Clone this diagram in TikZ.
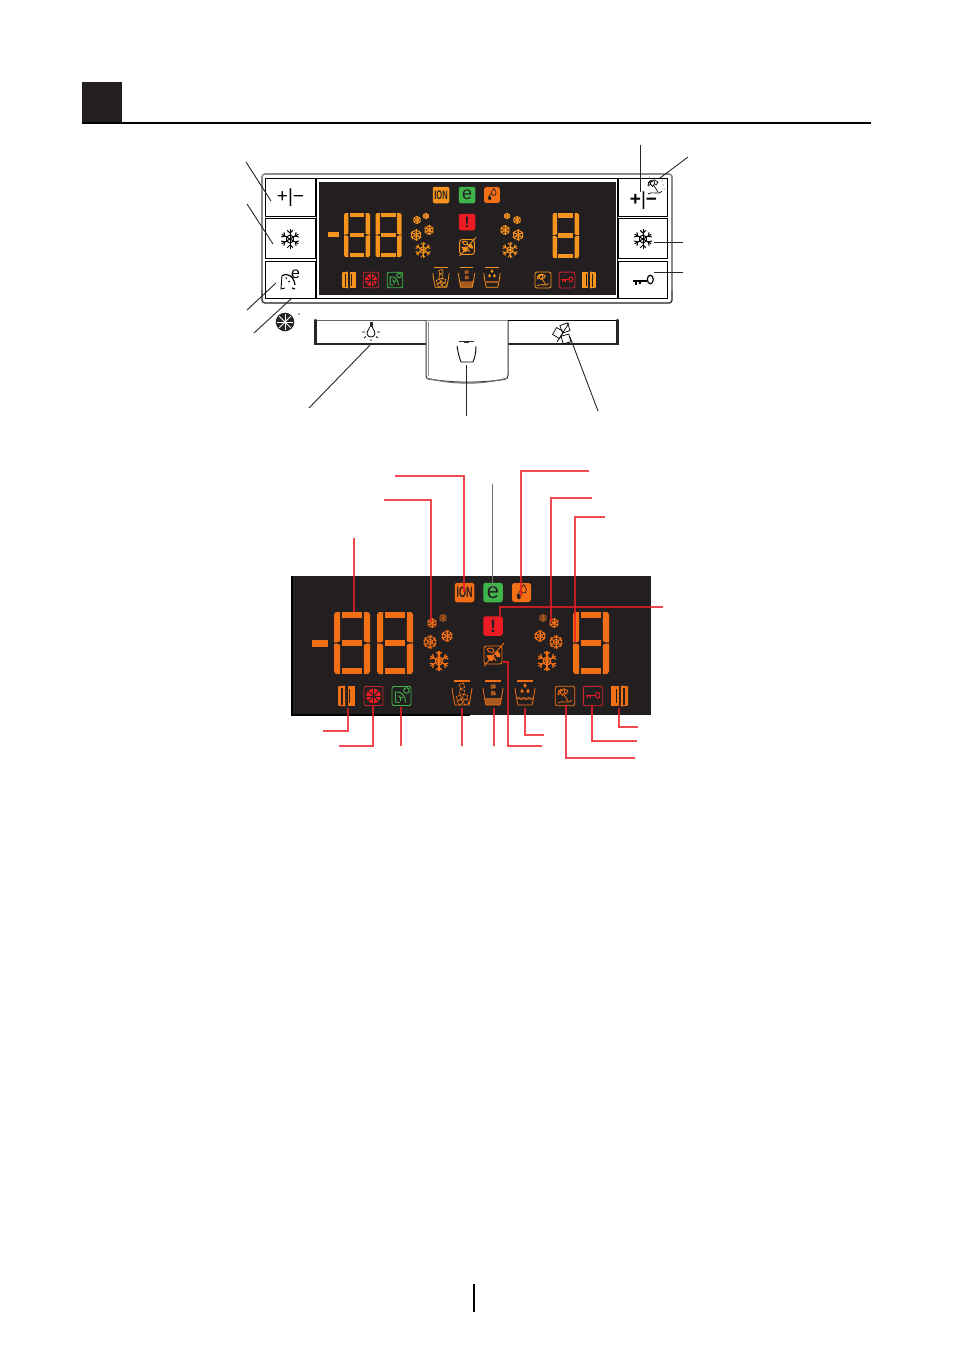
\documentclass[tikz,border=0pt]{standalone}
\usepackage{fontspec}
\setmainfont{Liberation Sans}
\definecolor{disp}{HTML}{231F20}
\definecolor{orA}{HTML}{F7941D}
\definecolor{orB}{HTML}{F26F16}
\definecolor{redI}{HTML}{ED1C24}
\definecolor{redD}{HTML}{C4262E}
\definecolor{grnI}{HTML}{3FB549}
\definecolor{brn}{HTML}{A9581F}
\definecolor{leadc}{HTML}{ED1C24}
\tikzset{
  btn/.style={draw=black,line width=.9pt,fill=white},
  lead/.style={draw=leadc,line width=1.1pt,draw opacity=.8},
  leadg/.style={draw=black!55,line width=.8pt},
  blead/.style={draw=black!85,line width=.9pt},
  ictext/.style={inner sep=0pt,outer sep=0pt,anchor=center},
}
% snowflake: x y r colour width
\newcommand{\flk}[5]{\begin{scope}[shift={(#1,#2)},scale=#3,color=#4,line width=#5]
 \foreach \a in {30,90,...,330}{\draw (0,0)--(\a:1);\draw (\a:.62)--++(\a+45:.4);\draw (\a:.62)--++(\a-45:.4);}
 \draw (30:.42)--(90:.42)--(150:.42)--(210:.42)--(270:.42)--(330:.42)--cycle;
\end{scope}}
\newcommand{\flkr}[5]{\flk{#1}{#2}{#3}{#4}{#5}\draw[color=#4,line width=#5] (#1,#2) circle (#3*.8);}
% seven segments: x y w h colour
\newcommand{\digit}[5]{\begin{scope}[shift={(#1,#2)},xscale=#3,yscale=#4,color=#5]
 \fill (0,.04)--(.05,0)--(.17,0)--(.17,.47)--(.09,.49)--(0,.49)--cycle;
 \fill (0,.96)--(.05,1)--(.17,1)--(.17,.53)--(.09,.51)--(0,.51)--cycle;
 \fill (1,.04)--(.95,0)--(.83,0)--(.83,.47)--(.91,.49)--(1,.49)--cycle;
 \fill (1,.96)--(.95,1)--(.83,1)--(.83,.53)--(.91,.51)--(1,.51)--cycle;
 \fill (.22,0) rectangle (.78,.1);
 \fill (.22,.45) rectangle (.78,.55);
 \fill (.22,.9) rectangle (.78,1);
\end{scope}}
% cup outline
\newcommand{\cupbase}{%
 \draw[line width=1.5pt] (-8,-14)--(8,-14);
 \draw[line width=.8pt] (-10,-7) .. controls (-9,0) and (-8,6) .. (-7,10)--(7,10) .. controls (8,6) and (9,0) .. (10,-7);}
\newcommand{\cupA}[4]{\begin{scope}[shift={(#1,#2)},scale=#3,color=#4,line width=.6pt]
 \cupbase
 \foreach \p/\q/\r in {0/-9/15,0/-3/-10,-3/3/20,3/2/-15,4/7/10,-2/7/30}{
  \draw[rotate around={\r:(\p,\q)}] (\p-2.2,\q-2.2) rectangle (\p+2.2,\q+2.2);}
\end{scope}}
\newcommand{\cupB}[4]{\begin{scope}[shift={(#1,#2)},scale=#3,color=#4,line width=.7pt]
 \fill[brn] (-8.5,3)--(8.5,3)--(7,10)--(-7,10)--cycle;
 \cupbase
 \fill[brn] (-2.5,-10)--(2,-11)--(3,-7)--(-2,-6)--cycle;
 \fill[brn] (-2,-4)--(2,-4)--(3,0)--(-2,.5)--cycle;
\end{scope}}
\newcommand{\cupC}[4]{\begin{scope}[shift={(#1,#2)},scale=#3,color=#4,line width=.7pt]
 \cupbase
 \foreach \p/\q in {0/-9,-3/-3.5,3/-3.5}{\fill (\p,\q-3)--(\p+1.7,\q) .. controls (\p+1.7,\q+2.2) and (\p-1.7,\q+2.2) .. (\p-1.7,\q)--cycle;}
 \draw[line width=2pt,brn] (-8,3.5) .. controls (-5,1.5) and (-5,5.5) .. (-2.5,3.5) .. controls (0,1.5) and (0,5.5) .. (2.5,3.5) .. controls (5,1.5) and (5,5.5) .. (8,3.5);
\end{scope}}
\newcommand{\door}[5]{\begin{scope}[shift={(#1,#2)},xscale=#3*#5,yscale=#3,color=#4]
 \fill (-8.5,-9.5)--(-1.5,-10.5)--(-1.2,10.5)--(-8.5,9.5)--cycle;
 \draw[disp,line width=1.2pt] (-4.5,-8)--(-4.5,8.5);
 \fill (1,-10) rectangle (8.5,10);
 \draw[disp,line width=.8pt] (3.2,-7)--(3.2,7);
\end{scope}}
\newcommand{\fanbox}[4]{\begin{scope}[shift={(#1,#2)},scale=#3,color=#4,line width=.9pt]
 \draw[redD,rounded corners=2pt] (-9.5,-9.5) rectangle (9.5,9.5);
 \fill (0,0) circle (7.3);
 \foreach \a in {0,45,...,315}{\draw[disp,line width=.8pt] (0,0)--(\a:7.3);}
\end{scope}}
\newcommand{\grnbox}[4]{\begin{scope}[shift={(#1,#2)},scale=#3,color=#4,line width=.9pt]
 \draw[rounded corners=2pt] (-9.5,-9.5) rectangle (9.5,9.5);
 \draw (-6,-4) .. controls (1,-5) and (4,1) .. (4,6.5);
 \draw (-6,-4)--(-6,6)--(-2,6.5);
 \draw (-3,-.5)--(-1,2) (1.5,1)--(-1,2)--(-1,5);
 \draw (5,-5.5) circle (2.8);
\end{scope}}
\newcommand{\umb}{%
 \draw (-7,-1) .. controls (-8,-7) and (-1,-9) .. (3,-5);
 \draw (-7,-1) -- (-4.5,-3) -- (-2.5,-.5)--(-.5,-3.5)--(1,-2)--(3,-5);
 \draw (-4,-6.5)--(-4.5,-3) (-1,-7.5)--(-.5,-3.5) (-6,-4)--(-2,-6);
 \draw (-1.5,-2)--(3,5);
 \draw (-7,7) .. controls (-3,4) and (3,8) .. (7,4.5);}
\newcommand{\umbbox}[4]{\begin{scope}[shift={(#1,#2)},scale=#3,color=#4,line width=.8pt]
 \draw[rounded corners=2pt] (-9.7,-9.7) rectangle (9.7,9.7);
 \umb
\end{scope}}
\newcommand{\keybox}[4]{\begin{scope}[shift={(#1,#2)},scale=#3,color=#4,line width=.9pt]
 \draw[redD,rounded corners=2pt] (-9.7,-9.7) rectangle (9.7,9.7);
 \draw[line width=1.3pt] (-7,-.5)--(2,-.5) (-5.5,-.5)--(-5.5,2) (-2.5,-.5)--(-2.5,2);
 \draw (4.7,-.7) ellipse (2.2 and 3);
\end{scope}}
\newcommand{\crossice}[4]{\begin{scope}[shift={(#1,#2)},scale=#3,color=#4,line width=.9pt]
 \draw[rounded corners=2.5pt] (-9,-9) rectangle (9,9);
 \draw (-6,-6) .. controls (-3,-8) and (1,-7) .. (1,-3) .. controls (-2,-2) and (-5,-3) .. (-6,-6);
 \fill (2,-3) .. controls (5,-5) and (8,-2) .. (7,2) .. controls (4,3) and (2,1) .. (2,-3);
 \fill (-6,1) .. controls (-3,-1) and (0,1) .. (1,4) .. controls (-1,8) and (-5,6) .. (-6,1);
 \draw (-7,1)--(0,0) (0,0)--(3,6);
 \draw (-9,11)--(11,-12);
\end{scope}}
\newcommand{\dropbox}[3]{\begin{scope}[shift={(#1,#2)},scale=#3]
 \fill[orB,rounded corners=2.5pt] (-9.5,-9.5) rectangle (9.5,9.5);
 \draw[disp,line width=.7pt] (2,-8) .. controls (5,-4) and (6,-2) .. (4,0) .. controls (2,1.5) and (-1,.5) .. (-1,-2) .. controls (-1,-4) and (1,-6) .. (2,-8);
 \fill[disp] (-3.5,6.5) .. controls (-6,5) and (-5,2) .. (-3,1) .. controls (-1,2) and (0,4) .. (-1,5.5) .. controls (-1.5,6.5) and (-2.5,7) .. (-3.5,6.5);
 \draw[disp,line width=.6pt] (-1,-2)--(-4,2);
\end{scope}}
\begin{document}
\begin{tikzpicture}[x=1pt,y=-1pt]
\useasboundingbox (0,0) rectangle (953,1352);
\fill[white] (0,0) rectangle (953,1352);
% header and footer
\node[fill=disp,minimum size=40pt,inner sep=0pt,anchor=north west] (headsq) at (82,82) {};
\coordinate (hr1) at (82,123); \coordinate (hr2) at (871,123);
\draw[black,line width=1.5pt] (hr1)--(hr2);
\coordinate (ft1) at (474,1284); \coordinate (ft2) at (474,1312);
\draw[black,line width=2.5pt] (ft1)--(ft2);

% ---------- control panel ----------
\draw[line width=1.6pt,draw=black!45,rounded corners=3pt] (262,174) rectangle (672,303);
\draw[line width=.9pt,draw=black!80,rounded corners=3pt] (262,290)--(262,303)--(672,303)--(672,290);
\draw[btn] (265,178) rectangle (315,216);
\draw[btn] (265,218) rectangle (315,258);
\draw[btn] (265,261) rectangle (315,298);
\draw[btn] (618,178) rectangle (667.5,216);
\draw[btn] (618,218) rectangle (667.5,258);
\draw[btn] (618,261) rectangle (667.5,298);
\draw[black,line width=.9pt] (316.5,178) rectangle (617,298);
\fill[disp] (318.5,182) rectangle (615.5,295);
% button marks
\node[ictext,font=\fontsize{19}{19}\selectfont] (plusL) at (290.5,198) {+|−};
\flk{290}{239}{9.6}{black}{1pt}
\begin{scope}[shift={(287,282)}]
 \draw[black,line width=1.2pt] (-5,-6.5) .. controls (0,-9.5) and (7,-6) .. (8,3);
 \draw[black,line width=.9pt] (-5,-6.5)--(-6,7)--(-2,6);
 \draw[black,line width=1.2pt] (5,6)--(8,7);
 \draw[black,line width=.8pt] (-1,-5)--(-.5,-3) (3,-1)--(1,0);
\end{scope}
\node[ictext,font=\fontsize{16}{16}\selectfont] (eBtn) at (295.5,274) {e};
\fill[black!85] (285,322) circle (9.3);
\foreach \a in {0,45,...,315}{\draw[white,line width=1pt] (285,322)--++(\a:8);}
\fill[black!60] (299,314) circle (.8);

\node[ictext,font=\fontsize{19}{19}\selectfont] (plusR) at (643.5,201) {\textbf{+}|\textbf{−}};
\begin{scope}[shift={(655,187)},line width=.7pt]\umb
 \foreach \p/\q in {4/-9,7/-6,8/-2,-6/-10,9/2}{\fill (\p,\q) circle (.5);}
\end{scope}
\flk{643}{239}{9.6}{black}{1pt}
\draw[black,line width=2.4pt] (633,281)--(647,281);
\draw[black,line width=1.6pt] (636,281)--(636,285) (640,281)--(640,284);
\draw[black,line width=1.2pt] (650.3,279.5) ellipse (3 and 4.3);

% ---------- lower bar ----------
\draw[btn,draw=black!60] (315.5,320) rectangle (426,344);
\draw[btn,draw=black] (507,320) rectangle (617.5,344);
\draw[black!85,line width=2.2pt,line cap=round] (315.5,320)--(315.5,344)--(426,344);
\draw[black!85,line width=2.2pt,line cap=round] (507,344)--(617.5,344)--(617.5,320);
\draw[fill=white,draw=black!80,line width=1pt] (426,321)--(426,376) .. controls (426,379) and (428,379) .. (432,379.5) .. controls (455,383) and (480,383) .. (504,379.5) .. controls (507,379) and (508,378) .. (508,375)--(508,321);
\draw[black!55,line width=1pt] (426,378) .. controls (455,385) and (480,385) .. (508,378);
\draw[black!45,line width=.9pt] (426,320.5)--(508,320.5);
\draw[black!45,line width=.9pt] (428,322)--(428,376);
% bulb
\fill[black!85] (369.5,322) rectangle (372.5,327);
\draw[black,line width=.8pt] (369.5,327) .. controls (369,331) and (366,331) .. (367,334) .. controls (368,338) and (374,338) .. (375,334) .. controls (376,331) and (373,331) .. (372.5,327);
\draw[black,line width=.8pt] (362,332)--(365,332) (377,332)--(380,332) (364,338)--(366,336.5) (378,338)--(376,336.5) (371,339)--(371,341);
% cup
\draw[black!80,line width=.9pt] (459,341)--(474,341);
\fill[black!80] (464,340.5) rectangle (469,342.5);
\draw[black,line width=.9pt] (457,346) .. controls (458,352) and (459,357) .. (461,362)--(473,362) .. controls (475,357) and (476,352) .. (476,346);
% crossed ice, bar
\begin{scope}[shift={(562,334)},line width=.7pt]
 \draw[rotate around={20:(3,-6)}] (-1,-10) rectangle (7,-2);
 \draw[rotate around={-30:(-4,-1)}] (-8,-5) rectangle (0,3);
 \draw[rotate around={15:(4,5)}] (0,1) rectangle (8,9);
 \draw (-5,8)--(7,-11);
\end{scope}

% ---------- first display ----------
\fill[orA] (328,232) rectangle (339,237);
\digit{344}{213}{26}{44}{orA}
\digit{375.5}{213}{26}{44}{orA}
\digit{552.5}{213}{26.5}{45}{orA}
\flkr{417}{220}{4.2}{orA}{.6pt}
\flkr{426}{216}{3.2}{orA}{.6pt}
\flkr{416}{235}{5.8}{orA}{.7pt}
\flkr{429}{230}{5}{orA}{.7pt}
\flk{423}{250}{8}{orA}{1pt}
\flkr{507}{216}{3.2}{orA}{.6pt}
\flkr{517}{220}{4.2}{orA}{.6pt}
\flkr{505}{230}{5}{orA}{.7pt}
\flkr{518}{235}{5.8}{orA}{.7pt}
\flk{510}{250}{8}{orA}{1pt}
\node[ictext,fill=orA,rounded corners=2pt,minimum size=16.5pt,text=disp,font=\fontsize{12.5}{12.5}\bfseries\selectfont] (ionA) at (441,195) {\scalebox{.6}[1]{ION}};
\node[ictext,fill=grnI,rounded corners=2pt,minimum size=16.5pt,text=disp,font=\fontsize{18}{18}\selectfont] (eA) at (467,195) {\raisebox{-1.2pt}{e}};
\dropbox{492}{195}{.84}
\node[ictext,fill=redI,rounded corners=2pt,minimum size=16.5pt,text=disp,font=\fontsize{15}{15}\bfseries\selectfont] (exA) at (467,222) {!};
\crossice{467}{247}{.82}{orA}
\door{349}{280}{.8}{orA}{1}
\fanbox{371}{280}{.82}{redI}
\grnbox{395}{280}{.82}{grnI}
\cupA{441}{279}{.82}{orA}
\cupB{466.5}{279}{.82}{orA}
\cupC{492}{279}{.82}{orA}
\umbbox{543}{280}{.82}{orA}
\keybox{567}{280}{.82}{redI}
\door{589}{280}{.8}{orA}{-1}

% ---------- second display ----------
\fill[disp] (291.5,576) rectangle (651,715);
\fill[black] (291,576) rectangle (292.5,715);
\fill[black] (291,714) rectangle (470,715.5);
\fill[orB] (312,640) rectangle (328,646.5);
\digit{334}{612}{36}{62}{orB}
\digit{377}{612}{36}{62}{orB}
\digit{573}{612}{36}{62}{orB}
\flkr{432}{623}{5}{orB}{.7pt}
\flkr{443}{618}{4}{brn}{.6pt}
\flkr{430}{642}{7}{orB}{.8pt}
\flkr{447}{636}{6}{orB}{.8pt}
\flk{439}{661}{10}{orB}{1.2pt}
\flkr{543}{618}{4}{brn}{.6pt}
\flkr{554}{623}{5}{orB}{.7pt}
\flkr{540}{636}{6}{orB}{.8pt}
\flkr{556}{642}{7}{orB}{.8pt}
\flk{547}{661}{10}{orB}{1.2pt}
\node[ictext,fill=orB,rounded corners=2.5pt,minimum size=19.5pt,text=disp,font=\fontsize{15}{15}\bfseries\selectfont] (ionB) at (464.5,592.5) {\scalebox{.6}[1]{ION}};
\node[ictext,fill=grnI,rounded corners=2.5pt,minimum size=19.5pt,text=disp,font=\fontsize{22}{22}\selectfont] (eB) at (493,592.5) {\raisebox{-1.5pt}{e}};
\dropbox{521.5}{592.5}{1}
\node[ictext,fill=redI,rounded corners=2.5pt,minimum size=19.5pt,text=disp,font=\fontsize{18}{18}\bfseries\selectfont] (exB) at (493,626) {!};
\crossice{493}{655}{1}{orB}
\door{346.5}{696}{1}{orB}{1}
\fanbox{373.5}{696}{1}{redI}
\grnbox{401.5}{696}{1}{grnI}
\cupA{462}{695}{1}{orB}
\cupB{493}{695}{1}{orB}
\cupC{525}{695}{1}{orB}
\umbbox{565}{696}{1}{orB}
\keybox{593}{696}{1}{redI}
\door{619.5}{696}{1}{orB}{-1}

% ---------- black leaders ----------
\path coordinate (b1a) at (246,162) coordinate (b1b) at (271,201)
      coordinate (b2a) at (247,204) coordinate (b2b) at (273,244)
      coordinate (b3a) at (247,310) coordinate (b3b) at (276,283)
      coordinate (b4a) at (254,333) coordinate (b4b) at (292,298)
      coordinate (b5a) at (309,408) coordinate (b5b) at (372,343)
      coordinate (b6a) at (466,416) coordinate (b6b) at (466,365)
      coordinate (b7a) at (598,411) coordinate (b7b) at (570,337)
      coordinate (b8a) at (640,145) coordinate (b8b) at (640,192)
      coordinate (b9a) at (688,157) coordinate (b9b) at (660,178)
      coordinate (b10a) at (683,242) coordinate (b10b) at (654,242)
      coordinate (b11a) at (683,272) coordinate (b11b) at (654,272);
\foreach \n in {1,...,11}{\draw[blead] (b\n a)--(b\n b);}

% ---------- red leaders ----------
\path coordinate (r1a) at (395,476) coordinate (r1b) at (464,592)
      coordinate (r2a) at (589,471) coordinate (r2b) at (521,596)
      coordinate (r3a) at (384,500) coordinate (r3b) at (431,622)
      coordinate (r4a) at (592,498) coordinate (r4b) at (551,622)
      coordinate (r5a) at (605,517) coordinate (r5b) at (575,642)
      coordinate (r6a) at (663,607) coordinate (r6b) at (500,617)
      coordinate (r7a) at (323,731) coordinate (r7b) at (348,708)
      coordinate (r8a) at (339,746) coordinate (r8b) at (373,706)
      coordinate (r9a) at (544,735) coordinate (r9b) at (525,708)
      coordinate (r10a) at (635,758) coordinate (r10b) at (566,705)
      coordinate (r11a) at (637,741) coordinate (r11b) at (592,705)
      coordinate (r12a) at (638,727) coordinate (r12b) at (619,708);
\foreach \n in {1,...,12}{\draw[lead] (r\n a)-|(r\n b);}
\path coordinate (s1a) at (354,538) coordinate (s1b) at (354,612)
      coordinate (s2a) at (401,746) coordinate (s2b) at (401,707)
      coordinate (s3a) at (462,746) coordinate (s3b) at (462,708)
      coordinate (s4a) at (494,746) coordinate (s4b) at (494,708);
\foreach \n in {1,...,4}{\draw[lead] (s\n a)--(s\n b);}
\coordinate (t1) at (542,746); \coordinate (t2) at (508,662); \coordinate (t3) at (503,662);
\draw[lead] (t1)-|(t2)--(t3);
\coordinate (ga) at (492,484); \coordinate (gb) at (492,590);
\draw[leadg] (ga)--(gb);
\end{tikzpicture}
\end{document}
